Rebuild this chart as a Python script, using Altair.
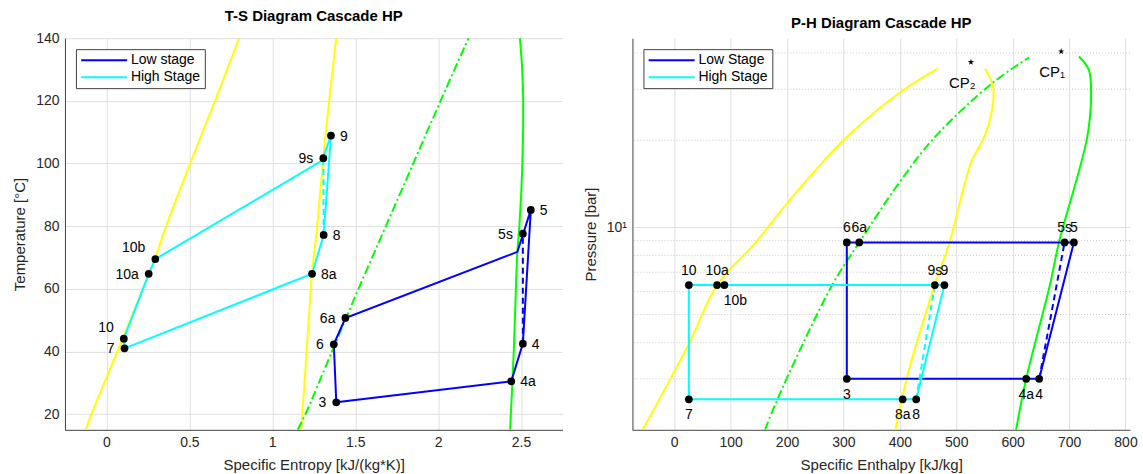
import altair as alt
import pandas as pd

# ---------------- cycle states ----------------
# low stage (fluid 1); "sv" = saturated vapour corner on the condenser isobar
low_state = ["3", "4a", "4", "5s", "5", "6a", "6", "sv"]
low_s = [1.386, 2.441, 2.511, 2.511, 2.559, 1.441, 1.371, 2.478]   # kJ/(kg K)
low_T = [23.8, 30.5, 42.5, 77.6, 85.2, 50.7, 42.3, 71.8]           # degC
low_h = [306, 624, 647, 692, 708.5, 328, 306, 682]                 # kJ/kg
low_p = [3.0, 3.0, 3.0, 8.87, 8.87, 8.87, 8.87, 8.87]              # bar

# high stage (fluid 2)
high_state = ["7", "8a", "8", "9s", "9", "10b", "10a", "10", "sv"]
high_s = [0.109, 1.240, 1.310, 1.308, 1.354, 0.295, 0.255, 0.105, 1.300]
high_T = [41.0, 64.8, 77.2, 101.7, 108.9, 69.5, 64.8, 44.1, 100.9]
high_h = [26, 405, 429, 462, 479, 89, 76, 26, 459]
high_p = [2.55, 2.55, 2.55, 6.32, 6.32, 6.32, 6.32, 6.32, 6.32]

low_cycle = ["3", "4a", "4", "5", "sv", "6a", "6", "3"]
high_cycle = ["7", "8a", "8", "9", "sv", "10b", "10a", "10", "7"]
low_isentropic = ["4", "5s"]
high_isentropic = ["8", "9s"]

# ---------------- saturation lines ----------------
# T-s, fluid 1
ts_liq1_s = [1.153, 1.20, 1.36, 1.52, 1.685, 1.85, 2.015, 2.183]
ts_liq1_T = [15, 20, 40, 60, 80, 100, 120, 140]
ts_vap1_s = [2.434, 2.456, 2.469, 2.478, 2.49, 2.508, 2.513, 2.507, 2.493]
ts_vap1_T = [15, 40, 60, 72, 80, 100, 120, 130, 140]
# T-s, fluid 2
ts_liq2_s = [-0.124, -0.09, 0.066, 0.22, 0.295, 0.36, 0.505, 0.655, 0.80]
ts_liq2_T = [15, 20, 40, 60, 70, 80, 100, 120, 140]
ts_vap2_s = [1.175, 1.207, 1.240, 1.271, 1.308, 1.343, 1.386]
ts_vap2_T = [15, 40, 65, 80, 102, 120, 140]

# P-h, fluid 1
ph_liq1_h = [161, 183, 280, 328, 397, 461, 564, 629]
ph_liq1_p = [2.0, 2.55, 6.32, 8.87, 14.1, 20.4, 31.5, 38.6]
ph_vap1_h = [606, 624, 666, 682, 732, 739, 735, 717.5]
ph_vap1_p = [2.0, 3.0, 6.32, 8.87, 20.4, 28.7, 35.0, 38.9]
# P-h, fluid 2
ph_liq2_h = [-56, 26, 76, 145, 203, 300, 399, 466.5]
ph_liq2_p = [2.0, 3.96, 6.32, 8.9, 12.3, 20.0, 29.1, 35.3]
ph_vap2_h = [392, 416, 462, 488, 527, 549, 563, 565, 551]
ph_vap2_p = [2.0, 3.21, 6.32, 8.87, 16.9, 20.4, 25.2, 30.7, 35.3]

# critical points
cp_name = ["CP\u2081", "CP\u2082"]
cp_h = [686, 526]
cp_p = [40.5, 37.2]

# pressure gridlines between the decade lines
ph_minor_p = [2, 3, 4, 5, 6, 7, 8, 9, 20, 30, 40]

# ---------------- styling ----------------
FONT = "Liberation Sans"
INK = "#262626"
GRID = "#dfdfdf"
BLUE, CYAN, YELLOW, GREEN = "#0000ff", "#00ffff", "#ffff00", "#00ff00"
DASHDOT = [9, 3, 2, 3]
# five-pointed star as an SVG path in unit coordinates
STAR = ("M0,-1L0.2245,-0.309L0.951,-0.309L0.363,0.118L0.588,0.809L0,0.382"
        "L-0.588,0.809L-0.363,0.118L-0.951,-0.309L-0.2245,-0.309Z")

ts_side = {"3": "left", "4a": "right", "4": "right", "5s": "left", "5": "right",
           "6a": "left", "6": "left", "7": "left", "8a": "right", "8": "right",
           "9s": "left", "9": "right", "10b": "upleft", "10a": "left", "10": "upleft"}
ph_side = {"3": "below", "4a": "below", "4": "below", "5s": "above", "5": "above",
           "6a": "above", "6": "above", "7": "below", "8a": "below", "8": "below",
           "9s": "above", "9": "above", "10b": "belowright", "10a": "above", "10": "above"}


def table(states, s, T, h, p):
    return pd.DataFrame({"state": states, "s": s, "T": T, "h": h, "p": p})


low_tab = table(low_state, low_s, low_T, low_h, low_p)
high_tab = table(high_state, high_s, high_T, high_h, high_p)


def path(tab, names, ts_name, ph_name):
    rows = tab.set_index("state").loc[names].reset_index()
    rows["idx"] = list(range(len(rows)))
    rows["ts_stage"] = ts_name
    rows["ph_stage"] = ph_name
    return rows


cycles = pd.concat([path(low_tab, low_cycle, "Low stage", "Low Stage"),
                    path(high_tab, high_cycle, "High Stage", "High Stage")], ignore_index=True)
low_dash = path(low_tab, low_isentropic, "a", "a")
high_dash = path(high_tab, high_isentropic, "b", "b")

points = pd.concat([low_tab, high_tab], ignore_index=True)
points = points[points["state"] != "sv"].reset_index(drop=True)
points["ts_side"] = points["state"].map(ts_side)
points["ph_side"] = points["state"].map(ph_side)


def curve(xs, ys):
    return pd.DataFrame({"x": xs, "y": ys, "i": list(range(len(xs)))})


def legend():
    # long horizontal key stroke drawn from a custom path
    return alt.Legend(title=None, orient="top-left", offset=11,
                      symbolType="M-1,0H7", symbolSize=132, symbolStrokeWidth=2,
                      rowPadding=3, padding=4, labelOffset=37,
                      fillColor="white", strokeColor="#404040",
                      labelFont=FONT, labelFontSize=14, labelColor="black")


# ---------------- T-s panel ----------------
ts_x_axis = alt.Axis(title="Specific Entropy [kJ/(kg*K)]", values=[0, 0.5, 1, 1.5, 2, 2.5],
                     format="~g", grid=True)
ts_y_axis = alt.Axis(title="Temperature [\u00b0C]", values=[20, 40, 60, 80, 100, 120, 140], grid=True)
ts_xs = alt.Scale(domain=[-0.25, 2.75], nice=False, zero=False)
ts_ys = alt.Scale(domain=[15, 140], nice=False, zero=False)


def ts_x(field):
    return alt.X(f"{field}:Q", scale=ts_xs, axis=ts_x_axis)


def ts_y(field):
    return alt.Y(f"{field}:Q", scale=ts_ys, axis=ts_y_axis)


def ts_curve(xs, ys, color, dash=None):
    kw = dict(color=color, strokeWidth=2, clip=True, interpolate="catmull-rom")
    if dash:
        kw["strokeDash"] = dash
    return alt.Chart(curve(xs, ys)).mark_line(**kw).encode(x=ts_x("x"), y=ts_y("y"), order="i:Q")


ts_layers = [
    ts_curve(ts_liq2_s, ts_liq2_T, YELLOW),
    ts_curve(ts_vap2_s, ts_vap2_T, YELLOW),
    ts_curve(ts_liq1_s, ts_liq1_T, GREEN, DASHDOT),
    ts_curve(ts_vap1_s, ts_vap1_T, GREEN),
    alt.Chart(cycles).mark_line(strokeWidth=2).encode(
        x=ts_x("s"), y=ts_y("T"), order="idx:Q",
        color=alt.Color("ts_stage:N", scale=alt.Scale(domain=["Low stage", "High Stage"], range=[BLUE, CYAN]),
                        legend=legend())),
    alt.Chart(low_dash).mark_line(strokeWidth=2, color=BLUE, strokeDash=[6, 4]).encode(
        x=ts_x("s"), y=ts_y("T"), order="idx:Q"),
    alt.Chart(high_dash).mark_line(strokeWidth=2, color=CYAN, strokeDash=[6, 4]).encode(
        x=ts_x("s"), y=ts_y("T"), order="idx:Q"),
    alt.Chart(points).mark_circle(size=60, color="black", opacity=1).encode(x=ts_x("s"), y=ts_y("T")),
]
ts_text = {"left": dict(align="right", dx=-10, dy=1), "right": dict(align="left", dx=9, dy=1),
           "upleft": dict(align="right", dx=-10, dy=-11)}
for side, kw in ts_text.items():
    ts_layers.append(
        alt.Chart(points).transform_filter(alt.datum.ts_side == side)
        .mark_text(font=FONT, fontSize=14, color="black", baseline="middle", **kw)
        .encode(x=ts_x("s"), y=ts_y("T"), text="state:N"))

ts_chart = alt.layer(*ts_layers).properties(
    width=498, height=392,
    title=alt.TitleParams("T-S Diagram Cascade HP", font=FONT, fontSize=15, fontWeight="bold",
                          color="black", anchor="middle", offset=7))

# ---------------- P-h panel ----------------
ph_x_axis = alt.Axis(title="Specific Enthalpy [kJ/kg]", values=list(range(0, 801, 100)), grid=True)
ph_y_axis = alt.Axis(title="Pressure [bar]", values=[10],
                     labelExpr="datum.value == 10 ? '10\u00b9' : ''", grid=True)
ph_xs = alt.Scale(domain=[-74, 808], nice=False, zero=False)
ph_ys = alt.Scale(type="log", domain=[2, 45], nice=False)


def ph_x(field):
    return alt.X(f"{field}:Q", scale=ph_xs, axis=ph_x_axis)


def ph_y(field):
    return alt.Y(f"{field}:Q", scale=ph_ys, axis=ph_y_axis)


def ph_curve(xs, ys, color, dash=None):
    kw = dict(color=color, strokeWidth=2, clip=True, interpolate="catmull-rom")
    if dash:
        kw["strokeDash"] = dash
    return alt.Chart(curve(xs, ys)).mark_line(**kw).encode(x=ph_x("x"), y=ph_y("y"), order="i:Q")


cp_tab = pd.DataFrame({"name": cp_name, "h": cp_h, "p": cp_p})
minor_tab = pd.DataFrame({"p": ph_minor_p})

ph_layers = [
    alt.Chart(minor_tab).mark_rule(color="#c8c8c8", strokeWidth=1, strokeDash=[1, 2]).encode(y=ph_y("p")),
    ph_curve(ph_liq2_h, ph_liq2_p, YELLOW),
    ph_curve(ph_vap2_h, ph_vap2_p, YELLOW),
    ph_curve(ph_liq1_h, ph_liq1_p, GREEN, DASHDOT),
    ph_curve(ph_vap1_h, ph_vap1_p, GREEN),
    alt.Chart(cycles).mark_line(strokeWidth=2).encode(
        x=ph_x("h"), y=ph_y("p"), order="idx:Q",
        color=alt.Color("ph_stage:N", scale=alt.Scale(domain=["Low Stage", "High Stage"], range=[BLUE, CYAN]),
                        legend=legend())),
    alt.Chart(low_dash).mark_line(strokeWidth=2, color=BLUE, strokeDash=[6, 4]).encode(
        x=ph_x("h"), y=ph_y("p"), order="idx:Q"),
    alt.Chart(high_dash).mark_line(strokeWidth=2, color=CYAN, strokeDash=[6, 4]).encode(
        x=ph_x("h"), y=ph_y("p"), order="idx:Q"),
    alt.Chart(points).mark_circle(size=60, color="black", opacity=1).encode(x=ph_x("h"), y=ph_y("p")),
    alt.Chart(cp_tab).mark_point(shape=STAR, filled=True, size=45, color="black", opacity=1).encode(
        x=ph_x("h"), y=ph_y("p")),
    alt.Chart(cp_tab).mark_text(font=FONT, fontSize=15, color="black", align="left", baseline="middle",
                                dx=-22, dy=21).encode(x=ph_x("h"), y=ph_y("p"), text="name:N"),
]
ph_text = {"above": dict(align="center", dy=-14), "below": dict(align="center", dy=16),
           "belowright": dict(align="center", dx=11, dy=16)}
for side, kw in ph_text.items():
    ph_layers.append(
        alt.Chart(points).transform_filter(alt.datum.ph_side == side)
        .mark_text(font=FONT, fontSize=14, color="black", baseline="middle", **kw)
        .encode(x=ph_x("h"), y=ph_y("p"), text="state:N"))

ph_chart = alt.layer(*ph_layers).properties(
    width=498, height=392,
    title=alt.TitleParams("P-H Diagram Cascade HP", font=FONT, fontSize=15, fontWeight="bold",
                          color="black", anchor="middle", offset=7))

chart = (
    alt.hconcat(ts_chart, ph_chart, spacing=20)
    .resolve_scale(color="independent")
    .properties(padding={"left": 12, "top": 9, "right": 5, "bottom": 5}, background="white")
    .configure_view(stroke=None)
    .configure_axis(
        labelFont=FONT, labelFontSize=14, labelColor=INK, labelPadding=6,
        titleFont=FONT, titleFontSize=15, titleColor=INK, titleFontWeight="normal", titlePadding=8,
        domainColor="#404040", domainWidth=1, ticks=False,
        gridColor=GRID, gridWidth=1)
)

chart.save("out.html", embed_options={"renderer": "svg", "actions": False})
